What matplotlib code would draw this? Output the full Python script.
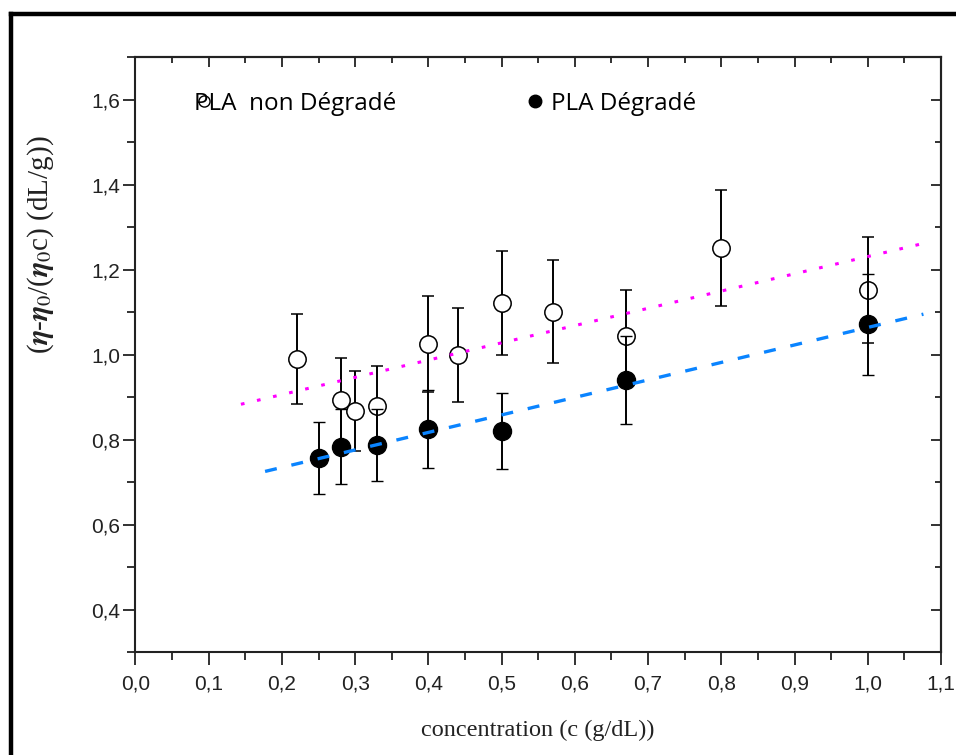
import numpy as np
import matplotlib
matplotlib.use("Agg")
import matplotlib.pyplot as plt
from matplotlib.ticker import MultipleLocator
from matplotlib.lines import Line2D

# PLA non degrade (open circles)
c_non = [0.22, 0.28, 0.30, 0.33, 0.40, 0.44, 0.50, 0.57, 0.67, 0.80, 1.00]
y_non = [0.99, 0.894, 0.868, 0.881, 1.026, 1.00, 1.123, 1.102, 1.045, 1.252, 1.153]
err_non = [0.106, 0.10, 0.094, 0.093, 0.113, 0.111, 0.122, 0.121, 0.108, 0.137, 0.125]

# PLA degrade (filled circles)
c_deg = [0.25, 0.28, 0.33, 0.40, 0.50, 0.67, 1.00]
y_deg = [0.758, 0.784, 0.788, 0.825, 0.821, 0.941, 1.072]
err_deg = [0.085, 0.088, 0.085, 0.092, 0.089, 0.104, 0.118]

# linear fits (end points)
fit_non_x = [0.144, 1.070]
fit_non_y = [0.884, 1.260]
fit_deg_x = [0.177, 1.076]
fit_deg_y = [0.726, 1.096]

xticks = [0.0, 0.1, 0.2, 0.3, 0.4, 0.5, 0.6, 0.7, 0.8, 0.9, 1.0, 1.1]
xtick_labels = ['0,0', '0,1', '0,2', '0,3', '0,4', '0,5', '0,6', '0,7', '0,8', '0,9', '1,0', '1,1']
yticks = [0.4, 0.6, 0.8, 1.0, 1.2, 1.4, 1.6]
ytick_labels = ['0,4', '0,6', '0,8', '1,0', '1,2', '1,4', '1,6']

plt.rcParams['mathtext.fontset'] = 'stix'
fig = plt.figure(figsize=(9.56, 7.55), dpi=100)
ax = fig.add_axes([0.1417, 0.1358, 0.8426, 0.7881])

ax.errorbar(c_non, y_non, yerr=err_non, fmt='o', color='black', mfc='white', mec='black',
            ms=12.5, mew=1.1, elinewidth=1.4, capsize=4.4, capthick=1.4, zorder=3)
ax.errorbar(c_deg, y_deg, yerr=err_deg, fmt='o', color='black', mfc='black', mec='black',
            ms=13, mew=1.0, elinewidth=1.4, capsize=4.4, capthick=1.4, zorder=4)

ax.plot(fit_non_x, fit_non_y, color='#FF00FF', lw=2.2, ls=(0, (1.2, 4.2)), zorder=5)
ax.plot(fit_deg_x, fit_deg_y, color='#0A84FF', lw=2.4, ls=(0, (3.6, 4.5)), zorder=5)

ax.set_xlim(0.0, 1.1)
ax.set_ylim(0.3, 1.7)

tick_font = dict(family='Liberation Sans', size=15)
ax.set_xticks(xticks)
ax.set_xticklabels(xtick_labels, **tick_font)
ax.set_yticks(yticks)
ax.set_yticklabels(ytick_labels, **tick_font)
ax.xaxis.set_minor_locator(MultipleLocator(0.05))
ax.yaxis.set_minor_locator(MultipleLocator(0.1))
ax.tick_params(which='major', direction='out', length=9, width=1.3, pad=7, color='#222222',
               labelcolor='#222222')
ax.tick_params(axis='y', which='major', pad=2)
ax.tick_params(which='minor', direction='out', length=5.5, width=1.3, color='#222222')
ax.tick_params(top=False, right=False)

# inward ticks on top and right
top = ax.secondary_xaxis('top')
top.set_xticks(xticks)
top.xaxis.set_minor_locator(MultipleLocator(0.05))
top.tick_params(which='major', direction='in', length=7.5, width=1.3, labeltop=False, color='#222222')
top.tick_params(which='minor', direction='in', length=4, width=1.3, color='#222222')
right = ax.secondary_yaxis('right')
right.set_yticks(yticks)
right.yaxis.set_minor_locator(MultipleLocator(0.1))
right.tick_params(which='major', direction='in', length=7.5, width=1.3, labelright=False, color='#222222')
right.tick_params(which='minor', direction='in', length=4, width=1.3, color='#222222')

for sp in list(ax.spines.values()) + [top.spines['top'], right.spines['right']]:
    sp.set_linewidth(1.5)
    sp.set_color('#222222')

ax.set_xlabel('concentration (c (g/dL))', family='Liberation Serif', size=17.5, labelpad=19,
              color='#222222')
ax.set_ylabel(r'($\boldsymbol{\eta}$-$\boldsymbol{\eta}_0$/($\boldsymbol{\eta}_0$c) (dL/g))',
              family='Liberation Serif', size=21, color='#222222')
ax.yaxis.set_label_coords(-0.099, 0.685)

# legend entries (marker overlapping the first label as in the original)
h_non = Line2D([], [], ls='none', marker='o', ms=8, mfc='white', mec='black', mew=1)
h_deg = Line2D([], [], ls='none', marker='o', ms=9, mfc='black', mec='black')
leg_font = dict(family='Open Sans', size=17.5)
leg1 = ax.legend([h_non], ['PLA  non Dégradé'], loc='center left', bbox_to_anchor=(0.0745, 0.922),
                 frameon=False, borderpad=0, borderaxespad=0, handlelength=0.7,
                 handletextpad=-0.75, prop=leg_font)
ax.add_artist(leg1)
ax.legend([h_deg], ['PLA Dégradé'], loc='center left', bbox_to_anchor=(0.4857, 0.922),
          frameon=False, borderpad=0, borderaxespad=0, handlelength=0.7,
          handletextpad=0.3, prop=leg_font)

# black frame of the original screenshot (left and top)
fig.add_artist(Line2D([0.0117, 0.0117], [0.0, 0.9817], color='black', lw=3.2,
                      solid_capstyle='projecting', transform=fig.transFigure))
fig.add_artist(Line2D([0.0117, 1.0], [0.9817, 0.9817], color='black', lw=3.2,
                      solid_capstyle='projecting', transform=fig.transFigure))

fig.savefig('out.png', dpi=100)
